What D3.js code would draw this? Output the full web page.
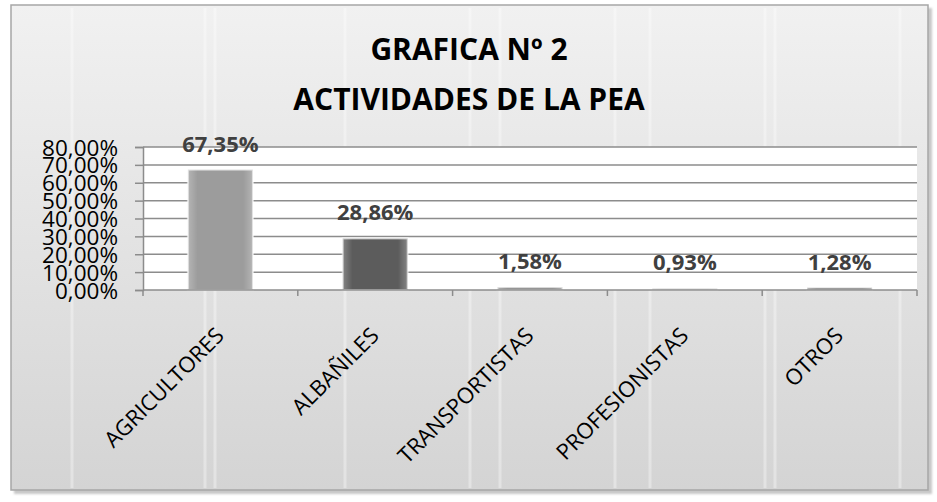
<!DOCTYPE html>
<html>
<head>
<meta charset="utf-8">
<script src="https://cdn.jsdelivr.net/npm/d3@7"></script>
<style>
  body { margin: 0; background: #ffffff; }
  svg { display: block; }
</style>
</head>
<body>
<svg width="937" height="502"></svg>
<script>
// chart data
var categories = ["AGRICULTORES", "ALBAÑILES", "TRANSPORTISTAS", "PROFESIONISTAS", "OTROS"];
var values = [67.35, 28.86, 1.58, 0.93, 1.28];
var barColors = ["#9c9c9c", "#5c5c5c", "#8a8a8a", "#a8a8a8", "#555555"];
var yTicks = [0, 10, 20, 30, 40, 50, 60, 70, 80];
var titleLines = ["GRAFICA Nº 2", "ACTIVIDADES DE LA PEA"];

var svg = d3.select("svg"),
    width = +svg.attr("width"),
    height = +svg.attr("height");

var fmt = function (v) { return v.toFixed(2).replace(".", ",") + "%"; };

// background gradient
var defs = svg.append("defs");
var bg = defs.append("linearGradient").attr("id", "bg")
    .attr("x1", 0).attr("y1", 0).attr("x2", 0).attr("y2", 1);
bg.append("stop").attr("offset", "0%").attr("stop-color", "#f1f1f1");
bg.append("stop").attr("offset", "100%").attr("stop-color", "#d4d4d4");

var barGrad = defs.append("linearGradient").attr("id", "barGlow")
    .attr("x1", 0).attr("y1", 0).attr("x2", 1).attr("y2", 0);
barGrad.append("stop").attr("offset", "0%").attr("stop-color", "#ffffff").attr("stop-opacity", 0.25);
barGrad.append("stop").attr("offset", "15%").attr("stop-color", "#ffffff").attr("stop-opacity", 0);
barGrad.append("stop").attr("offset", "85%").attr("stop-color", "#ffffff").attr("stop-opacity", 0);
barGrad.append("stop").attr("offset", "100%").attr("stop-color", "#ffffff").attr("stop-opacity", 0.25);

var blur = defs.append("filter").attr("id", "soft")
    .attr("x", "-20%").attr("y", "-20%").attr("width", "140%").attr("height", "140%");
blur.append("feGaussianBlur").attr("stdDeviation", 1.2);

// frame
svg.append("rect")
    .attr("x", 14).attr("y", 8)
    .attr("width", 918).attr("height", 486)
    .attr("fill", "#c8c8c8")
    .attr("filter", "url(#soft)");
svg.append("rect")
    .attr("x", 11).attr("y", 5)
    .attr("width", 917).attr("height", 485)
    .attr("fill", "url(#bg)")
    .attr("stroke", "#a6a6a6")
    .attr("stroke-width", 1.5);

// faint vertical stripes of the texture
svg.append("g").selectAll("line")
    .data([72, 205, 215, 345, 470, 500, 615, 650, 765, 775, 900])
    .enter().append("line")
    .attr("x1", function (d) { return d; }).attr("x2", function (d) { return d; })
    .attr("y1", 8).attr("y2", 488)
    .attr("stroke", "#ffffff").attr("stroke-opacity", 0.35).attr("stroke-width", 3);

var margin = { left: 143, right: 917, top: 147, bottom: 290 };

var x = d3.scaleBand()
    .domain(categories)
    .range([margin.left, margin.right])
    .paddingInner(0.58)
    .paddingOuter(0.29);

var y = d3.scaleLinear()
    .domain([0, 80])
    .range([margin.bottom, margin.top]);

// plot area
svg.append("rect")
    .attr("x", margin.left).attr("y", margin.top)
    .attr("width", margin.right - margin.left)
    .attr("height", margin.bottom - margin.top)
    .attr("fill", "#ffffff");

// gridlines
svg.append("g").selectAll("line")
    .data(yTicks.slice(1))
    .enter().append("line")
    .attr("x1", margin.left).attr("x2", margin.right)
    .attr("y1", function (d) { return y(d); })
    .attr("y2", function (d) { return y(d); })
    .attr("stroke", "#8c8c8c").attr("stroke-width", 1.5);

// bars
var bars = svg.append("g").selectAll("g")
    .data(values)
    .enter().append("g");
bars.append("rect")
    .attr("x", function (d, i) { return x(categories[i]); })
    .attr("y", function (d) { return y(d); })
    .attr("width", x.bandwidth())
    .attr("height", function (d) { return y(0) - y(d); })
    .attr("fill", function (d, i) { return barColors[i]; })
    .attr("stroke", "#ffffff").attr("stroke-opacity", 0.6).attr("stroke-width", 2);
bars.append("rect")
    .attr("x", function (d, i) { return x(categories[i]); })
    .attr("y", function (d) { return y(d); })
    .attr("width", x.bandwidth())
    .attr("height", function (d) { return y(0) - y(d); })
    .attr("fill", "url(#barGlow)");

// value labels
svg.append("g").selectAll("text")
    .data(values)
    .enter().append("text")
    .attr("x", function (d, i) { return x(categories[i]) + x.bandwidth() / 2; })
    .attr("y", function (d) { return y(d) - 18; })
    .attr("text-anchor", "middle")
    .attr("font-family", "Open Sans")
    .attr("font-weight", "bold")
    .attr("font-size", "22px")
    .attr("fill", "#404040")
    .text(function (d) { return fmt(d); });

// y axis
var yAxis = d3.axisLeft(y)
    .tickValues(yTicks)
    .tickSize(8)
    .tickPadding(17)
    .tickFormat(function (d) { return d.toFixed(2).replace(".", ",") + "%"; });
var gy = svg.append("g")
    .attr("transform", "translate(" + margin.left + ",0)")
    .call(yAxis);
gy.select(".domain").attr("stroke", "#8c8c8c").attr("stroke-width", 1.5);
gy.selectAll(".tick line").attr("stroke", "#8c8c8c").attr("stroke-width", 1.5);
gy.selectAll(".tick text")
    .attr("font-family", "Open Sans")
    .attr("font-size", "22.5px")
    .attr("fill", "#000000")
    .attr("dy", "0.36em");

// x axis
var xb = d3.scalePoint()
    .domain(d3.range(categories.length + 1))
    .range([margin.left, margin.right]);
var gx = svg.append("g")
    .attr("transform", "translate(0," + margin.bottom + ")");
gx.append("line")
    .attr("x1", margin.left).attr("x2", margin.right)
    .attr("stroke", "#8c8c8c").attr("stroke-width", 1.5);
gx.selectAll(".tk")
    .data(xb.domain())
    .enter().append("line")
    .attr("class", "tk")
    .attr("x1", function (d) { return xb(d); })
    .attr("x2", function (d) { return xb(d); })
    .attr("y1", 0).attr("y2", 6)
    .attr("stroke", "#8c8c8c").attr("stroke-width", 1.5);

gx.selectAll("text")
    .data(categories)
    .enter().append("text")
    .attr("transform", function (d) {
        return "translate(" + (x(d) + x.bandwidth() / 2 + 5) + ",47) rotate(-45)";
    })
    .attr("text-anchor", "end")
    .attr("font-family", "Open Sans")
    .attr("font-size", "22px")
    .attr("fill", "#000000")
    .text(function (d) { return d; });

// title
svg.append("g").selectAll("text")
    .data(titleLines)
    .enter().append("text")
    .attr("x", 469)
    .attr("y", function (d, i) { return 60 + i * 50; })
    .attr("text-anchor", "middle")
    .attr("font-family", "Open Sans")
    .attr("font-weight", "bold")
    .attr("font-size", "30px")
    .attr("fill", "#000000")
    .text(function (d) { return d; });
</script>
</body>
</html>
